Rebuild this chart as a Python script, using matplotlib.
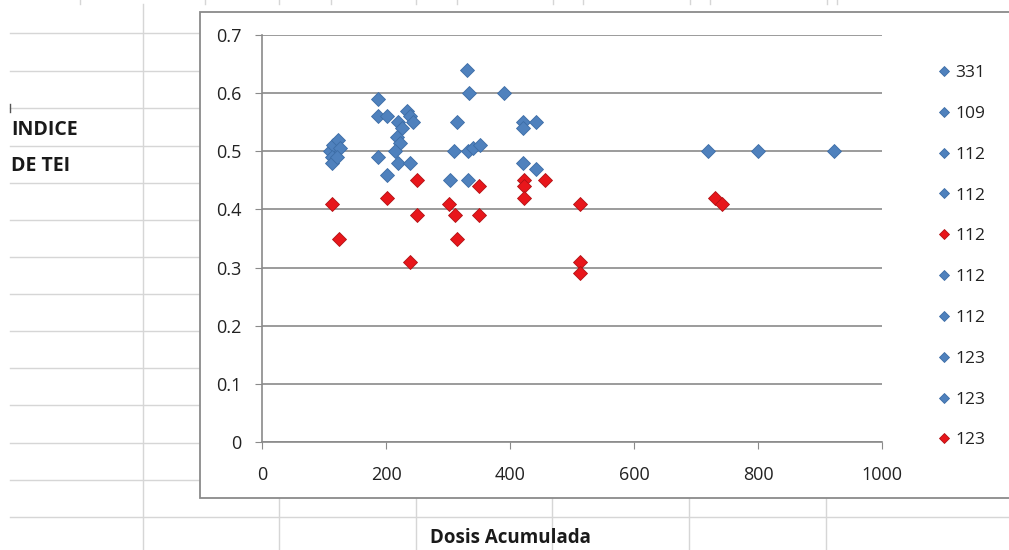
from matplotlib import pyplot as plt
from matplotlib.patches import Rectangle
import numpy as np

# series as listed in the legend (x = dosis acumulada, y = indice de TEI)
labels = ['331', '109', '112', '112', '112', '112', '112', '123', '123', '123']

x_331 = [110, 187, 234, 330, 421]
y_331 = [0.50, 0.59, 0.57, 0.64, 0.55]
x_109 = [115, 187, 239, 334, 421]
y_109 = [0.51, 0.56, 0.56, 0.60, 0.54]
x_112a = [122, 201, 244, 314, 442]
y_112a = [0.52, 0.56, 0.55, 0.55, 0.55]
x_112b = [113, 187, 219, 310, 421]
y_112b = [0.49, 0.49, 0.55, 0.50, 0.48]
x_112c = [113, 201, 250, 302, 350, 422, 456, 513, 730, 239]
y_112c = [0.41, 0.42, 0.45, 0.41, 0.44, 0.45, 0.45, 0.41, 0.42, 0.31]
x_112d = [126, 201, 226, 332, 442]
y_112d = [0.505, 0.46, 0.54, 0.50, 0.47]
x_112e = [113, 218, 340, 390, 720]
y_112e = [0.48, 0.525, 0.505, 0.60, 0.50]
x_123a = [121, 223, 352, 303, 800]
y_123a = [0.49, 0.515, 0.51, 0.45, 0.50]
x_123b = [215, 219, 239, 333, 922]
y_123b = [0.50, 0.48, 0.48, 0.45, 0.50]
x_123c = [124, 250, 311, 314, 350, 422, 422, 513, 513, 742]
y_123c = [0.35, 0.39, 0.39, 0.35, 0.39, 0.44, 0.42, 0.31, 0.29, 0.41]

xs = [x_331, x_109, x_112a, x_112b, x_112c, x_112d, x_112e, x_123a, x_123b, x_123c]
ys = [y_331, y_109, y_112a, y_112b, y_112c, y_112d, y_112e, y_123a, y_123b, y_123c]
is_red = [False, False, False, False, True, False, False, False, False, True]

x_ticks = [0, 200, 400, 600, 800, 1000]
y_ticks = [0, 0.1, 0.2, 0.3, 0.4, 0.5, 0.6, 0.7]

blue = '#4F81BD'
blue_edge = '#3D6DA6'
red = '#E8161B'
red_edge = '#B01216'
axis_grey = '#8A8A8A'
cell_grey = '#D6D6D6'
txt = '#1a1a1a'

W, H = 1009, 550
fig = plt.figure(figsize=(W / 100, H / 100), dpi=100)
fig.patch.set_facecolor('white')

# spreadsheet background (pixel coordinates)
bg = fig.add_axes([0, 0, 1, 1], zorder=0)
bg.set_xlim(0, W)
bg.set_ylim(H, 0)
bg.axis('off')
for yy in [33, 71, 108, 146, 183, 220, 257, 294, 331, 368, 405, 443, 480, 517]:
    bg.plot([10, W], [yy, yy], color=cell_grey, lw=1)
bg.plot([143, 143], [4, H], color=cell_grey, lw=1)
for xx in [279, 416, 552, 689, 826]:
    bg.plot([xx, xx], [498, H], color=cell_grey, lw=1)
for xx in [80, 205, 279, 331, 416, 457, 553, 583, 690, 710, 827, 837]:
    bg.plot([xx, xx], [0, 4], color=cell_grey, lw=1)
bg.plot([10, 10], [104, 112], color='#555555', lw=1)

# chart box
bg.add_patch(Rectangle((200, 12), 900, 486, facecolor='white',
                       edgecolor=axis_grey, lw=1.3, zorder=3))

bg.text(11, 130, 'INDICE', fontsize=14, fontweight='bold', family='Open Sans',
        va='center', ha='left', color=txt)
bg.text(11, 166, 'DE TEI', fontsize=14, fontweight='bold', family='Open Sans',
        va='center', ha='left', color=txt)
bg.text(510, 538, 'Dosis Acumulada', fontsize=13.5, fontweight='bold',
        family='Open Sans', va='center', ha='center', color=txt)

# scatter plot
ax = fig.add_axes([262 / W, 1 - 442 / H, 620 / W, 407 / H], zorder=5)
ax.patch.set_alpha(0)
handles = []
for x, y, lab, r in zip(xs, ys, labels, is_red):
    h, = ax.plot(x, y, linestyle='none', marker='D', ms=7.2,
                 color=red if r else blue,
                 markeredgecolor=red_edge if r else blue_edge,
                 markeredgewidth=0.6, label=lab, zorder=4)
    handles.append(h)

ax.set_xlim(0, 1000)
ax.set_ylim(0, 0.7)
ax.set_xticks(x_ticks)
ax.set_yticks(y_ticks)
ax.set_xticklabels([str(v) for v in x_ticks])
ax.set_yticklabels(['0'] + ['%.1f' % v for v in y_ticks[1:]])
ax.yaxis.grid(True, color=axis_grey, lw=1.2)
ax.set_axisbelow(True)
for s in ['top', 'right']:
    ax.spines[s].set_visible(False)
for s in ['left', 'bottom']:
    ax.spines[s].set_color(axis_grey)
    ax.spines[s].set_linewidth(1.2)
ax.tick_params(axis='y', direction='out', length=5, color=axis_grey,
               pad=10, labelsize=13, labelcolor='#222222')
ax.tick_params(axis='x', direction='out', length=5, color=axis_grey,
               pad=12, labelsize=13, labelcolor='#222222')
for t in ax.get_xticklabels() + ax.get_yticklabels():
    t.set_family('Open Sans')

leg = fig.legend(handles=handles, loc='upper left',
                 bbox_to_anchor=(938 / W, 1 - 65 / H), frameon=False,
                 handlelength=0.7, handletextpad=0.3, labelspacing=1.42,
                 markerscale=0.7, borderaxespad=0, borderpad=0,
                 prop={'family': 'Open Sans', 'size': 12.5})
for t in leg.get_texts():
    t.set_color('#222222')

plt.savefig('out.png', dpi=100)
